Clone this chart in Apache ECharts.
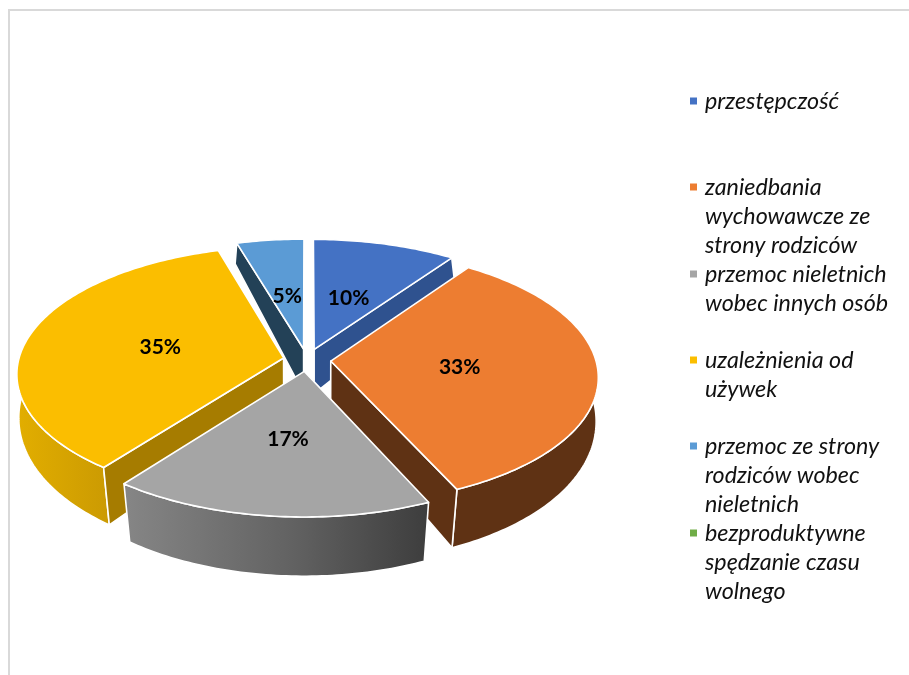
<!DOCTYPE html>
<html><head><meta charset="utf-8">
<style>html,body{margin:0;padding:0;background:#fff}#c{width:909px;height:675px}</style>
<script src="https://cdn.jsdelivr.net/npm/echarts@6/dist/echarts.min.js"></script>
</head><body><div id="c"></div>
<script>
var categories = ['przestępczość','zaniedbania\nwychowawcze ze\nstrony rodziców','przemoc nieletnich\nwobec innych osób','uzależnienia od\nużywek','przemoc ze strony\nrodziców wobec\nnieletnich','bezproduktywne\nspędzanie czasu\nwolnego'];
var values = [9.8,33.4,17.2,35,4.6,0];
var colors = ['#4472C4','#ED7D31','#A5A5A5','#FBBE00','#5B9BD5','#70AD47'];
var edgeWallColors = ['#2F528F','#5F3214','#6e6e6e','#A67C00','#234157','#4a7a2e'];
var drawOrder = [2,4,5,3,1,6]; // z per category: back slices first
var legendRows = [101,187,274,360,446,533];
var labelRadius = [0.46,0.485,0.50,0.48,0.46,0.5];

var LH = 29, FS = 23.3;
var top_ = {cx:307, cy:360, rx:265, ry:125.4, px:0.119, py:0.119};
var bot_ = {cx:307, cy:406, rx:264, ry:145, px:0.09, py:0.066};
var EXPLODE = 0.09;
var total = values.reduce(function(a,b){return a+b;},0);

function project(pl,u,v){return [pl.cx+pl.rx*u/(1+pl.px*v), pl.cy-pl.ry*v/(1+pl.py*v)];}
function deg(d){return d*Math.PI/180;}
function ptOn(pl,ang,r,ox,oy){return project(pl,ox+r*Math.sin(deg(ang)),oy+r*Math.cos(deg(ang)));}
function arc(pl,a,b,ox,oy){var n=Math.max(2,Math.ceil(Math.abs(b-a))),out=[];for(var i=0;i<=n;i++){out.push(ptOn(pl,a+(b-a)*i/n,1,ox,oy));}return out;}

var wallFill = {
  1:'#5F3214',
  2:{type:'linear',x:0,y:0,x2:1,y2:0,colorStops:[{offset:0,color:'#868686'},{offset:0.55,color:'#626262'},{offset:1,color:'#3D3D3D'}]},
  3:{type:'linear',x:0,y:0,x2:1,y2:0,colorStops:[{offset:0,color:'#E2AE00'},{offset:1,color:'#CB9A02'}]}
};

var cursor = 0, spans = values.map(function(v){var s=cursor;cursor+=v/total*360;return [s,cursor];});

function makeRender(i){
  return function(params,api){
    var s=spans[i][0], e=spans[i][1];
    if(e-s<=0) return {type:'group',children:[]};
    var m=(s+e)/2, ox=EXPLODE*Math.sin(deg(m)), oy=EXPLODE*Math.cos(deg(m));
    var kids=[], line={stroke:'#fff',lineWidth:1.6,lineJoin:'round'};
    var wallS=Math.max(s,60), wallE=Math.min(e,300);
    if(wallE>wallS){
      var t=arc(top_,wallS,wallE,ox,oy), b=arc(bot_,wallS,wallE,ox,oy).reverse();
      kids.push({type:'polygon',shape:{points:t.concat(b)},style:Object.assign({fill:wallFill[i]},line)});
    }
    var edgeAng = (i===0||i===1)?e:(i===3?s:(i===4?s:null));
    if(edgeAng!==null){
      kids.push({type:'polygon',shape:{points:[project(top_,ox,oy),ptOn(top_,edgeAng,1,ox,oy),ptOn(bot_,edgeAng,1,ox,oy),project(bot_,ox,oy)]},style:Object.assign({fill:edgeWallColors[i]},line)});
    }
    var face=[project(top_,ox,oy)].concat(arc(top_,s,e,ox,oy));
    kids.push({type:'polygon',shape:{points:face},style:Object.assign({fill:colors[i]},line)});
    var lp=ptOn(top_,m,labelRadius[i],ox,oy);
    kids.push({type:'text',z2:10,style:{x:lp[0],y:lp[1],text:Math.round(values[i]/total*100)+'%',fill:'#000',font:'bold 21px Lato, Carlito, sans-serif',align:'center',verticalAlign:'middle'}});
    return {type:'group',children:kids};
  };
}

var series = categories.map(function(n,i){
  return {type:'custom',name:n,coordinateSystem:'none',z:drawOrder[i],silent:true,
    itemStyle:{color:colors[i]},data:[values[i]],renderItem:makeRender(i)};
});

function blankLead(n){ return new Array(n).join('\n'); }

var legends = categories.map(function(n,i){
  var lines=n.split('\n').length, H=(2*lines-1)*LH;
  return {data:[n],orient:'vertical',left:690,top:legendRows[i]-H/2,padding:0,itemWidth:7,itemHeight:7,
    icon:'rect',selectedMode:false,
    formatter:function(name){return blankLead(lines)+name;},
    textStyle:{fontFamily:'Lato, Carlito, sans-serif',fontStyle:'italic',fontSize:FS,color:'#111',lineHeight:LH,
      padding:[0,0,0,3]}};
});

var chart = echarts.init(document.getElementById('c'),null,{renderer:'canvas'});
chart.setOption({
  animation:false,
  backgroundColor:'#fff',
  graphic:[{type:'rect',silent:true,z:-1,shape:{x:9,y:10,width:960,height:720},style:{fill:'none',stroke:'#D9D9D9',lineWidth:2}}],
  legend:legends,
  series:series
});
</script></body></html>
